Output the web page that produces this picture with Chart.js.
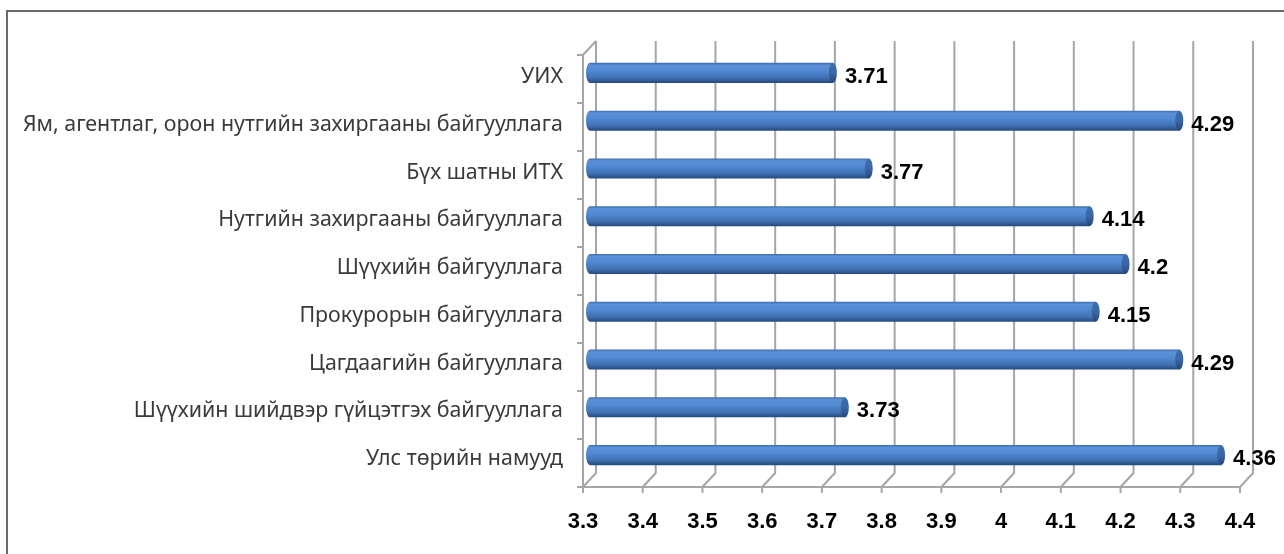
<!DOCTYPE html>
<html><head><meta charset="utf-8">
<script src="https://cdn.jsdelivr.net/npm/chart.js@4.4.1/dist/chart.umd.min.js"></script>
<style>html,body{margin:0;padding:0;background:#fff;}canvas{display:block}</style>
</head><body>
<canvas id="c" width="1284" height="554"></canvas>
<script>
const categories = [
  'УИХ',
  'Ям, агентлаг, орон нутгийн захиргааны байгууллага',
  'Бүх шатны ИТХ',
  'Нутгийн захиргааны байгууллага',
  'Шүүхийн байгууллага',
  'Прокурорын байгууллага',
  'Цагдаагийн байгууллага',
  'Шүүхийн шийдвэр гүйцэтгэх байгууллага',
  'Улс төрийн намууд'
];
const values = [3.71, 4.29, 3.77, 4.14, 4.2, 4.15, 4.29, 3.73, 4.36];
const valueLabels = ['3.71', '4.29', '3.77', '4.14', '4.2', '4.15', '4.29', '3.73', '4.36'];
const axisMin = 3.3;
const axisMax = 4.4;
const axisStep = 0.1;

const GRID = '#a6a6a6';
const NARROW = "'Liberation Sans Narrow', 'Arial Narrow', 'Liberation Sans', sans-serif";

const frame3d = {
  id: 'frame3d',
  beforeDraw(chart) {
    const ctx = chart.ctx;
    ctx.save();
    ctx.fillStyle = '#fff';
    ctx.fillRect(0, 0, chart.width, chart.height);
    ctx.strokeStyle = '#6b6b6b';
    ctx.lineWidth = 2;
    ctx.beginPath();
    ctx.moveTo(7, chart.height);
    ctx.lineTo(7, 11);
    ctx.lineTo(chart.width, 11);
    ctx.stroke();
    ctx.restore();
  },
  beforeDatasetsDraw(chart) {
    const ctx = chart.ctx, xs = chart.scales.x, ca = chart.chartArea;
    const backDX = 4, frontDX = -9;
    const wallTop = ca.top - 8, floorBack = ca.bottom - 6, floorFront = ca.bottom + 8;
    ctx.save();
    ctx.strokeStyle = GRID;
    ctx.lineWidth = 2;
    xs.ticks.forEach(t => {
      const px = xs.getPixelForValue(t.value);
      ctx.beginPath();
      ctx.moveTo(px + backDX, wallTop);
      ctx.lineTo(px + backDX, floorBack);
      ctx.lineTo(px + frontDX, floorFront);
      ctx.lineTo(px + frontDX, floorFront + 6);
      ctx.stroke();
    });
    const x0 = xs.getPixelForValue(axisMin), x1 = xs.getPixelForValue(axisMax);
    ctx.beginPath();
    ctx.moveTo(x0 + frontDX, floorFront);
    ctx.lineTo(x1 + frontDX, floorFront);
    ctx.stroke();
    const wallFrontTop = ca.top + 6;
    ctx.beginPath();
    ctx.moveTo(x0 + backDX, wallTop);
    ctx.lineTo(x0 + frontDX, wallFrontTop);
    ctx.lineTo(x0 + frontDX, floorFront);
    ctx.stroke();
    for (let i = 0; i <= categories.length; i++) {
      const y = wallFrontTop + i * ((floorFront - wallFrontTop) / categories.length);
      ctx.beginPath();
      ctx.moveTo(x0 + frontDX - 6, y);
      ctx.lineTo(x0 + frontDX, y);
      ctx.stroke();
    }
    ctx.restore();
  },
  afterDatasetsDraw(chart) {
    const ctx = chart.ctx;
    const meta = chart.getDatasetMeta(0);
    ctx.save();
    meta.data.forEach((el, i) => {
      const h = el.height, top = el.y - h / 2, bot = el.y + h / 2;
      const left = el.base - 2, right = el.x - 4, rx = 4;
      const g = ctx.createLinearGradient(0, top, 0, bot);
      g.addColorStop(0, '#3d6bab');
      g.addColorStop(0.12, '#5b91d8');
      g.addColorStop(0.4, '#5289d2');
      g.addColorStop(0.75, '#3f71b2');
      g.addColorStop(1, '#26497c');
      ctx.fillStyle = g;
      ctx.beginPath();
      ctx.ellipse(left, el.y, rx, h / 2, 0, Math.PI / 2, Math.PI * 1.5);
      ctx.lineTo(right, top);
      ctx.lineTo(right, bot);
      ctx.closePath();
      ctx.fill();
      const gc = ctx.createLinearGradient(0, top, 0, bot);
      gc.addColorStop(0, '#3f6eae');
      gc.addColorStop(0.5, '#3a67a4');
      gc.addColorStop(1, '#24467a');
      ctx.fillStyle = gc;
      ctx.beginPath();
      ctx.ellipse(right, el.y, rx, h / 2, 0, 0, Math.PI * 2);
      ctx.fill();
      ctx.fillStyle = '#000';
      ctx.font = 'bold 22px ' + NARROW;
      ctx.textAlign = 'left';
      ctx.textBaseline = 'middle';
      ctx.fillText(valueLabels[i], el.x + 8, el.y + 4);
    });
    ctx.restore();
  }
};

new Chart(document.getElementById('c'), {
  type: 'bar',
  data: {
    labels: categories,
    datasets: [{
      data: values,
      base: axisMin,
      backgroundColor: 'rgba(0,0,0,0)',
      borderWidth: 0,
      barPercentage: 0.42,
      categoryPercentage: 1
    }]
  },
  options: {
    indexAxis: 'y',
    responsive: false,
    animation: false,
    devicePixelRatio: 1,
    layout: { padding: { top: 49, right: 35, bottom: 0, left: 0 } },
    plugins: { legend: { display: false }, tooltip: { enabled: false } },
    scales: {
      x: {
        type: 'linear',
        min: axisMin,
        max: axisMax,
        grid: { display: false, drawTicks: false },
        border: { display: false },
        ticks: {
          stepSize: axisStep,
          padding: 30,
          labelOffset: -9,
          color: '#000',
          font: { family: NARROW, size: 22, weight: 'bold' },
          callback: v => String(Number(Number(v).toFixed(1)))
        },
        afterFit: s => { s.height = 75; s.paddingLeft = 0; s.paddingRight = 0; }
      },
      y: {
        grid: { display: false, drawTicks: false },
        border: { display: false },
        ticks: {
          padding: 29,
          labelOffset: 4,
          color: '#3a3a3a',
          font: { family: "'Noto Sans', 'Open Sans', sans-serif", size: 21.4 }
        },
        afterFit: s => { s.width = 592; s.paddingTop = 0; s.paddingBottom = 0; }
      }
    }
  },
  plugins: [frame3d]
});
</script>
</body></html>
